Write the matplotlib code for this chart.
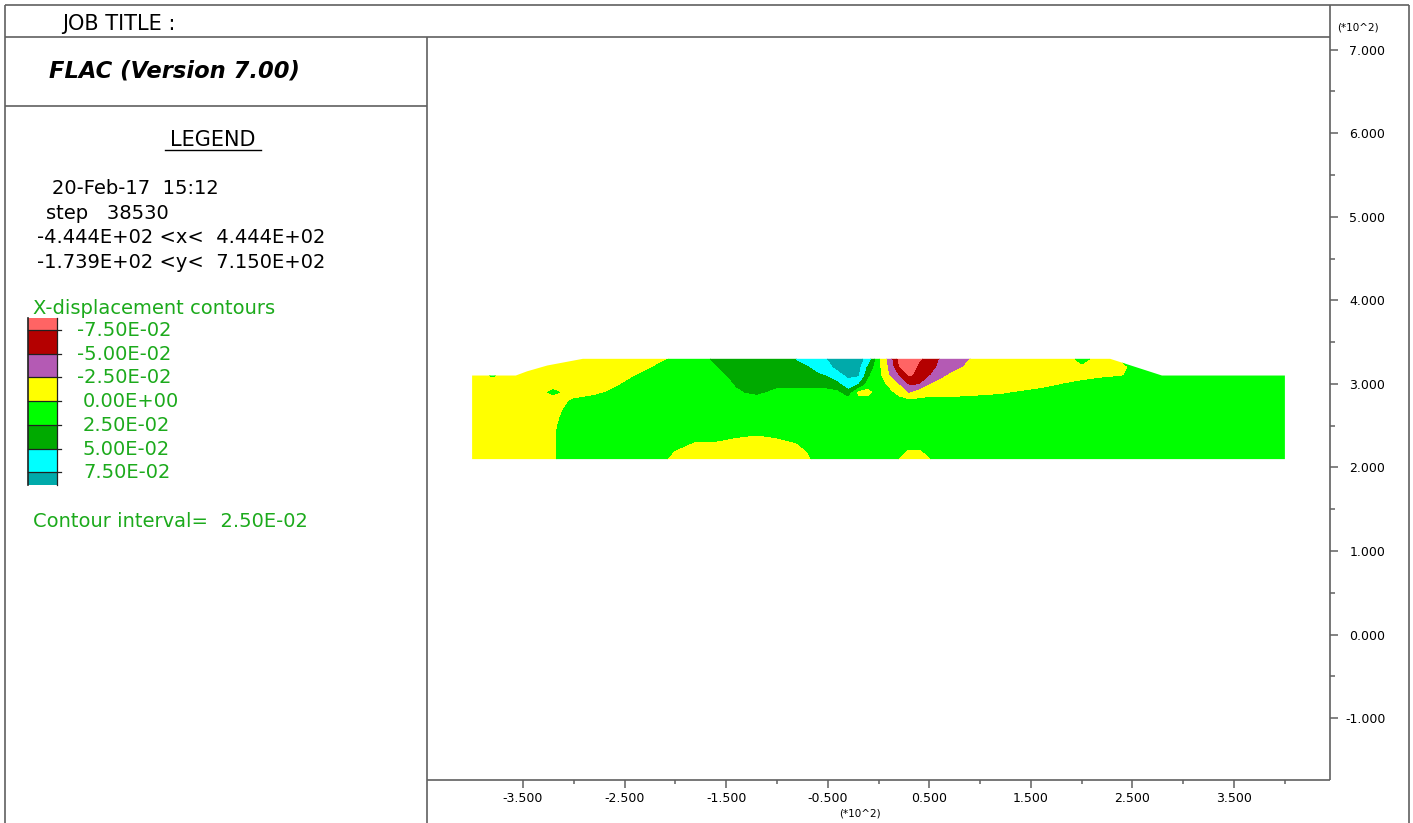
import matplotlib
matplotlib.use("Agg")
import matplotlib.pyplot as plt
import numpy as np
from matplotlib.patches import Polygon, Rectangle

# ── Data ──────────────────────────────────────────────────────────────────────

# grid nodes of the displacement field (m)
x_nodes = [-400, -380, -360, -340, -320, -300, -280, -260, -240, -220, -200, -180,
           -160, -140, -120, -100, -90, -80, -70, -60, -50, -40, -30, -20, -10, 0,
           10, 20, 30, 40, 50, 60, 70, 80, 90, 100, 120, 140, 160, 180, 200, 220,
           240, 260, 280, 300, 320, 340, 360, 380, 400]
y_nodes = [210, 220, 230, 240, 250, 260, 270, 280, 290, 300, 310, 320, 330]

# x-displacement at the nodes, in units of 1e-2 m, one row per y_nodes entry
xdisp_y210 = [-1.2, -1.2, -1.2, -1.2, -0.2, 1.2, 1.2, 1.2, 1.2, 1.2, -0.8, -1.2,
              -1.2, -1.2, -1.2, -1.2, -1.2, -1.2, -0.6, 0.9, 1.2, 1.2, 1.2, 1.2, 1.2, 1.2,
              1.2, -0.1, -0.8, -0.8, -0.2, 1.0, 1.2, 1.2, 1.2, 1.2, 1.2, 1.2, 1.2, 1.2, 1.2, 1.2,
              1.2, 1.2, 1.2, 1.2, 1.2, 1.2, 1.2, 1.2, 1.2]
xdisp_y220 = [-1.2, -1.2, -1.2, -1.2, -0.2, 1.2, 1.2, 1.2, 1.2, 1.2, -0.1, -1.0,
              -1.0, -1.0, -1.0, -1.0, -1.0, -1.0, 0.1, 1.2, 1.2, 1.2, 1.2, 1.2, 1.2, 1.2,
              1.2, 0.6, -0.3, -0.3, 0.6, 1.2, 1.2, 1.2, 1.2, 1.2, 1.2, 1.2, 1.2, 1.2, 1.2, 1.2,
              1.2, 1.2, 1.2, 1.2, 1.2, 1.2, 1.2, 1.2, 1.2]
xdisp_y230 = [-1.2, -1.2, -1.2, -1.2, -0.2, 1.2, 1.2, 1.2, 1.2, 1.2, 1.2, -0.2,
              -0.2, -0.6, -0.8, -0.6, -0.4, 0.1, 1.2, 1.2, 1.2, 1.2, 1.2, 1.2, 1.2, 1.2,
              1.2, 1.2, 1.2, 1.2, 1.2, 1.2, 1.2, 1.2, 1.2, 1.2, 1.2, 1.2, 1.2, 1.2, 1.2, 1.2,
              1.2, 1.2, 1.2, 1.2, 1.2, 1.2, 1.2, 1.2, 1.2]
xdisp_y240 = [-1.2, -1.2, -1.2, -1.2, -0.2, 1.2, 1.2, 1.2, 1.2, 1.2, 1.2, 1.2,
              1.2, 0.4, 0.1, 0.5, 1.2, 1.2, 1.2, 1.2, 1.2, 1.2, 1.2, 1.2, 1.2, 1.2,
              1.2, 1.2, 1.2, 1.2, 1.2, 1.2, 1.2, 1.2, 1.2, 1.2, 1.2, 1.2, 1.2, 1.2, 1.2, 1.2,
              1.2, 1.2, 1.2, 1.2, 1.2, 1.2, 1.2, 1.2, 1.2]
xdisp_y250 = [-1.2, -1.2, -1.2, -1.2, -0.3, 1.2, 1.2, 1.2, 1.2, 1.2, 1.2, 1.2,
              1.2, 1.2, 1.2, 1.2, 1.2, 1.2, 1.2, 1.2, 1.2, 1.2, 1.2, 1.2, 1.2, 1.2,
              1.2, 1.2, 1.2, 1.2, 1.2, 1.2, 1.2, 1.2, 1.2, 1.2, 1.2, 1.2, 1.2, 1.2, 1.2, 1.2,
              1.2, 1.2, 1.2, 1.2, 1.2, 1.2, 1.2, 1.2, 1.2]
xdisp_y260 = [-1.2, -1.2, -1.2, -1.2, -0.6, 1.2, 1.2, 1.2, 1.2, 1.2, 1.2, 1.2,
              1.2, 1.2, 1.2, 1.2, 1.2, 1.2, 1.2, 1.2, 1.2, 1.2, 1.2, 1.2, 1.2, 1.2,
              1.2, 1.2, 1.2, 1.2, 1.2, 1.2, 1.2, 1.2, 1.2, 1.2, 1.2, 1.2, 1.2, 1.2, 1.2, 1.2,
              1.2, 1.2, 1.2, 1.2, 1.2, 1.2, 1.2, 1.2, 1.2]
xdisp_y270 = [-1.2, -1.2, -1.2, -1.2, -1.2, 1.2, 1.2, 1.2, 1.2, 1.2, 1.2, 1.2,
              1.2, 1.2, 1.2, 1.2, 1.2, 1.2, 1.2, 1.2, 1.2, 1.2, 1.2, 1.2, 1.2, 1.2,
              1.2, 1.2, 1.2, 1.2, 1.2, 1.2, 1.2, 1.2, 1.2, 1.2, 1.2, 1.2, 1.2, 1.2, 1.2, 1.2,
              1.2, 1.2, 1.2, 1.2, 1.2, 1.2, 1.2, 1.2, 1.2]
xdisp_y280 = [-1.2, -1.2, -1.2, -1.2, -1.2, 0.3, 1.2, 1.2, 1.2, 1.2, 1.2, 1.2,
              1.2, 1.2, 1.2, 1.2, 1.2, 1.2, 1.2, 1.2, 1.2, 1.2, 1.2, 0.8, 0.8, 1.0,
              1.0, 0.6, 0.3, 0.4, 0.6, 0.6, 0.6, 0.6, 0.6, 0.8, 0.8, 1.0, 1.2, 1.2, 1.2, 1.2,
              1.2, 1.2, 1.2, 1.2, 1.2, 1.2, 1.2, 1.2, 1.2]
xdisp_y290 = [-1.2, -1.2, -1.2, -1.2, 0.5, -1.2, -0.8, 0.6, 1.2, 1.2, 1.2, 1.2,
              1.2, 2.2, 2.9, 1.8, 1.8, 1.8, 1.8, 1.8, 1.8, 1.9, 3.5, -1.0, -1.0, 1.0,
              0.4, -0.8, -3.0, -1.5, -1.0, -1.0, -1.0, -0.8, -0.7, -0.6, -0.3, 0.1, 0.6, 1.2, 1.2, 1.2,
              1.2, 1.2, 1.2, 1.2, 1.2, 1.2, 1.2, 1.2, 1.2]
xdisp_y300 = [-1.2, -1.2, -1.2, -1.2, -1.2, -1.2, -1.2, -0.6, 1.0, 1.2, 1.2, 1.2,
              1.2, 2.65, 3.0, 3.0, 3.0, 3.0, 3.0, 3.0, 3.2, 4.0, 6.5, 4.8, 1.0, 0.8,
              -0.5, -2.7, -5.6, -5.4, -2.8, -1.5, -1.0, -1.0, -1.0, -1.0, -1.0, -1.0, -0.8, -0.1, 0.6, 1.2,
              1.2, 1.2, 1.2, 1.2, 1.2, 1.2, 1.2, 1.2, 1.2]
xdisp_y310 = [-1.2, 0.2, -1.2, -1.2, -1.2, -1.2, -1.2, -1.2, -0.1, 1.2, 1.2, 1.2,
              1.2, 3.5, 3.8, 3.8, 3.8, 3.8, 4.2, 4.6, 5.0, 6.5, 7.8, 7.6, 2.6, 0.6,
              -2.4, -5.2, -8.0, -6.8, -5.2, -3.6, -2.2, -1.0, -1.0, -1.0, -1.0, -1.0, -1.0, -1.0, -1.0, -0.5,
              -0.1, 1.2, 1.2, 1.2, 1.2, 1.2, 1.2, 1.2, 1.2]
xdisp_y320 = [-1.2, -1.2, -1.2, -1.2, -1.2, -1.2, -1.2, -1.2, -1.2, 0.1, 1.2, 1.2,
              2.3, 4.0, 4.2, 4.2, 4.2, 4.2, 4.7, 5.5, 6.8, 8.0, 8.5, 8.2, 4.0, 0.5,
              -3.0, -7.6, -9.5, -7.2, -6.0, -4.6, -3.6, -2.8, -1.8, -1.0, -1.0, -1.0, -1.0, -1.0, -0.3, -1.0,
              -0.5, 1.2, 1.2, 1.2, 1.2, 1.2, 1.2, 1.2, 1.2]
xdisp_y330 = [-1.2, -1.2, -1.2, -1.2, -1.2, -1.2, -1.2, -1.2, -1.2, -0.6, 0.3, 1.2,
              3.0, 4.3, 4.3, 4.3, 4.3, 5.1, 6.0, 6.6, 7.5, 8.5, 9.0, 8.8, 6.0, 0.5,
              -3.5, -8.5, -10.0, -8.0, -6.6, -5.0, -4.0, -3.3, -2.6, -1.5, -1.0, -1.0, -1.0, -1.0, 0.5, -0.8,
              0.3, 1.2, 1.2, 1.2, 1.2, 1.2, 1.2, 1.2, 1.2]
xdisp_rows = [xdisp_y210, xdisp_y220, xdisp_y230, xdisp_y240, xdisp_y250, xdisp_y260,
              xdisp_y270, xdisp_y280, xdisp_y290, xdisp_y300, xdisp_y310, xdisp_y320,
              xdisp_y330]

# outline of the model (embankment on a foundation layer)
outline_x = [-400, -400, -357, -346, -326, -291, 228, 279, 400, 400]
outline_y = [210, 310, 310, 315, 322, 330, 330, 310, 310, 210]

# contour levels (1e-2 m) and fill colours, lowest band first
contour_levels = [-7.5, -5.0, -2.5, 0.0, 2.5, 5.0, 7.5]
band_colors = ["#ff6464", "#b40000", "#b45ab4", "#ffff00",
               "#00ff00", "#00aa00", "#00ffff", "#00aaaa"]

x_major = [-350, -250, -150, -50, 50, 150, 250, 350]
x_minor = [-300, -200, -100, 0, 100, 200, 300, 400]
y_major = [-100, 0, 100, 200, 300, 400, 500, 600, 700]
y_minor = [-50, 50, 150, 250, 350, 450, 550, 650]

info_lines = ["20-Feb-17  15:12", "step   38530",
              "-4.444E+02 <x<  4.444E+02", "-1.739E+02 <y<  7.150E+02"]

# ── Figure ────────────────────────────────────────────────────────────────────

W, H = 1413, 823
LINE = "#606060"
GREEN_TXT = "#1caa1c"

fig = plt.figure(figsize=(W / 100, H / 100), dpi=100)

# plot area (pixel box 427..1330 x 37..780)
ax = fig.add_axes([427 / W, (H - 780) / H, 903 / W, 743 / H])
ax.set_xlim(-444.4, 444.4)
ax.set_ylim(-173.9, 715.0)
for sp in ax.spines.values():
    sp.set_visible(False)

X, Y = np.meshgrid(x_nodes, y_nodes)
Z = np.array(xdisp_rows)
levels = [-1e3] + contour_levels + [1e3]
cs = ax.contourf(X, Y, Z, levels=levels, colors=band_colors, antialiased=False)
outline = Polygon(np.column_stack([outline_x, outline_y]), closed=True,
                  facecolor="none", edgecolor="none", transform=ax.transData)
ax.add_patch(outline)
cs.set_clip_path(outline)

ax.set_xticks(x_major)
ax.set_xticklabels([f"{v / 100:.3f}" for v in x_major])
ax.set_xticks(x_minor, minor=True)
ax.set_yticks(y_major)
ax.set_yticklabels([f"{v / 100:.3f}" for v in y_major])
ax.set_yticks(y_minor, minor=True)
ax.yaxis.tick_right()
ax.tick_params(axis="x", which="both", top=False, direction="out", color=LINE,
               width=1.1, labelsize=9, pad=3)
ax.tick_params(axis="x", which="major", length=5.8)
ax.tick_params(axis="x", which="minor", length=3)
ax.tick_params(axis="y", which="both", left=False, right=True, labelleft=False,
               labelright=True, direction="out", color=LINE, width=1.1, labelsize=9)
ax.tick_params(axis="y", which="major", length=5.8, pad=34)
ax.tick_params(axis="y", which="minor", length=3.6)
for lab in ax.get_yticklabels():
    lab.set_horizontalalignment("right")
ax.text(0.4795, -33 / 743, "(*10^2)", transform=ax.transAxes, ha="center",
        va="center", fontsize=7.5)

# frame, legend panel (pixel coordinates)
deco = fig.add_axes([0, 0, 1, 1])
deco.set_xlim(0, W)
deco.set_ylim(H, 0)
deco.axis("off")
deco.patch.set_visible(False)

frame = [((5, 5), (5, 823)), ((5, 5), (1409, 5)), ((1409, 5), (1409, 823)),
         ((5, 37), (1330, 37)), ((5, 106), (427, 106)), ((427, 37), (427, 823)),
         ((1330, 5), (1330, 780)), ((427, 780), (1330, 780))]
for (x0, y0), (x1, y1) in frame:
    deco.plot([x0, x1], [y0, y1], color=LINE, lw=1.2, solid_capstyle="butt")

deco.text(1358, 27, "(*10^2)", ha="center", va="center", fontsize=7.5)
deco.text(62, 30, "JOB TITLE :", ha="left", va="baseline", fontsize=15)
deco.text(49, 77, "FLAC (Version 7.00)", ha="left", va="baseline", fontsize=16.3,
          fontweight="bold", fontstyle="italic")
deco.text(213, 146, "LEGEND", ha="center", va="baseline", fontsize=15)
deco.plot([165, 261], [150, 150], color="black", lw=1)

for i, line in enumerate(info_lines):
    deco.text(37 if line.startswith("-") else 46 if line.startswith("s") else 52,
              194 + 24.7 * i, line, ha="left", va="baseline", fontsize=14)

deco.text(33, 314, "X-displacement contours", ha="left", va="baseline",
          fontsize=14, color=GREEN_TXT)

# colour key
key_x0, key_x1 = 28, 57
step = 23.7
edges = [318, 330] + [330 + step * k for k in range(1, 7)] + [330 + step * 6 + 12.8]
for k, col in enumerate(band_colors):
    deco.add_patch(Rectangle((key_x0, edges[k]), key_x1 - key_x0, edges[k + 1] - edges[k],
                             facecolor=col, edgecolor="none"))
for k in range(1, 8):
    deco.plot([key_x0, 61], [edges[k], edges[k]], color="#202020", lw=0.9)
deco.plot([key_x0, key_x0], [edges[0], edges[-1]], color="#202020", lw=1.2)
deco.plot([key_x1, key_x1], [edges[0], edges[-1]], color="#202020", lw=0.9)
for k, lev in enumerate(contour_levels):
    deco.text(77 if lev < 0 else 83, edges[k + 1] + 6, f"{lev * 1e-2:.2E}",
              ha="left", va="baseline", fontsize=14, color=GREEN_TXT)

deco.text(33, 527, "Contour interval=  2.50E-02", ha="left", va="baseline",
          fontsize=14, color=GREEN_TXT)

fig.savefig("out.png", dpi=100)
